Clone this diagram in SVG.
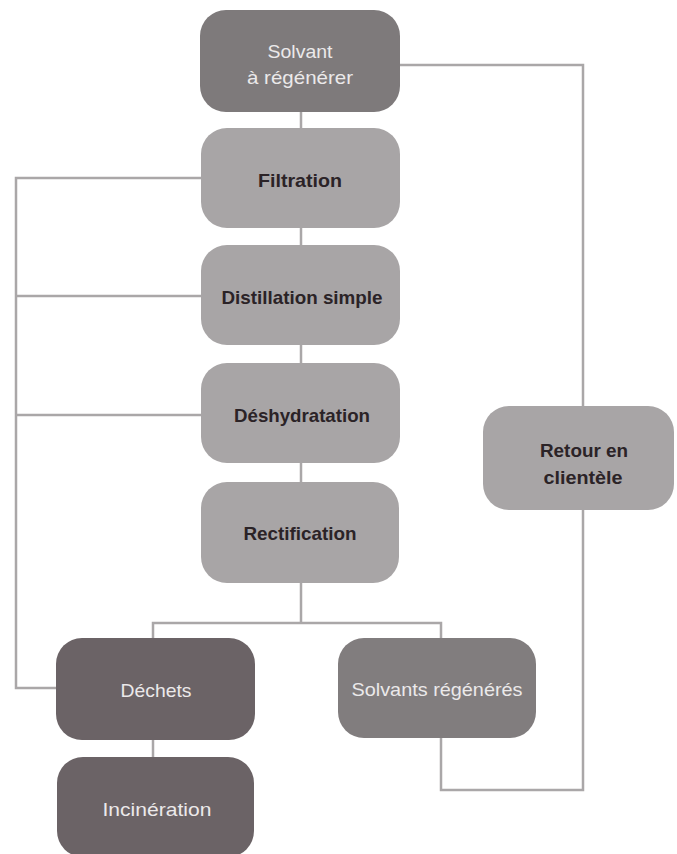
<svg xmlns="http://www.w3.org/2000/svg" width="677" height="854" viewBox="0 0 677 854">
  <style>
    .box { stroke: none; }
    .start { fill: #7e7a7b; }
    .step { fill: #a8a5a6; }
    .waste { fill: #6b6366; }
    .out { fill: #817d7e; }
    .lbl { font-family: "Liberation Sans Narrow", "Liberation Sans", "DejaVu Sans", sans-serif; font-size: 19px; text-anchor: middle; }
    .dark { fill: #2b2327; font-weight: bold; }
    .light { fill: #ebe9ea; font-weight: normal; }
    .wire { fill: none; stroke: #aaa7a8; stroke-width: 2.5; stroke-linejoin: miter; }
  </style>
  <rect width="677" height="854" fill="#ffffff"/>

  <g id="connectors">
    <!-- main vertical chain -->
    <path class="wire" d="M301 112 V128 M301 228 V245 M301 345 V363 M301 463 V482"/>
    <!-- split after rectification -->
    <path class="wire" d="M301 583 V623 M153 638 V623 H441 V638"/>
    <!-- waste to incineration -->
    <path class="wire" d="M153 740 V757"/>
    <!-- side streams to waste -->
    <path class="wire" d="M201 178 H16 V688 H57 M16 296 H201 M16 415 H201"/>
    <!-- return loop -->
    <path class="wire" d="M400 65 H583 V406 M583 510 V790 H441 V738"/>
  </g>

  <g id="solvant">
    <rect class="box start" x="200" y="10" width="200" height="102" rx="26"/>
    <text class="lbl light" x="300" y="58" textLength="65" lengthAdjust="spacingAndGlyphs">Solvant</text>
    <text class="lbl light" x="300" y="84" textLength="106" lengthAdjust="spacingAndGlyphs">à régénérer</text>
  </g>

  <g id="filtration">
    <rect class="box step" x="201" y="128" width="199" height="100" rx="26"/>
    <text class="lbl dark" x="300" y="187" textLength="84" lengthAdjust="spacingAndGlyphs">Filtration</text>
  </g>

  <g id="distillation">
    <rect class="box step" x="201" y="245" width="199" height="100" rx="26"/>
    <text class="lbl dark" x="302" y="304" textLength="161" lengthAdjust="spacingAndGlyphs">Distillation simple</text>
  </g>

  <g id="deshydratation">
    <rect class="box step" x="201" y="363" width="199" height="100" rx="26"/>
    <text class="lbl dark" x="302" y="422" textLength="136" lengthAdjust="spacingAndGlyphs">Déshydratation</text>
  </g>

  <g id="rectification">
    <rect class="box step" x="201" y="482" width="198" height="101" rx="26"/>
    <text class="lbl dark" x="300" y="540" textLength="113" lengthAdjust="spacingAndGlyphs">Rectification</text>
  </g>

  <g id="retour">
    <rect class="box step" x="483" y="406" width="191" height="104" rx="26"/>
    <text class="lbl dark" x="584" y="457" textLength="88" lengthAdjust="spacingAndGlyphs">Retour en</text>
    <text class="lbl dark" x="583" y="484" textLength="79" lengthAdjust="spacingAndGlyphs">clientèle</text>
  </g>

  <g id="dechets">
    <rect class="box waste" x="56" y="638" width="199" height="102" rx="26"/>
    <text class="lbl light" x="156" y="697" textLength="71" lengthAdjust="spacingAndGlyphs">Déchets</text>
  </g>

  <g id="solvants-regeneres">
    <rect class="box out" x="338" y="638" width="198" height="100" rx="26"/>
    <text class="lbl light" x="437" y="696" textLength="171" lengthAdjust="spacingAndGlyphs">Solvants régénérés</text>
  </g>

  <g id="incineration">
    <rect class="box waste" x="57" y="757" width="197" height="100" rx="26"/>
    <text class="lbl light" x="157" y="816" textLength="109" lengthAdjust="spacingAndGlyphs">Incinération</text>
  </g>
</svg>
